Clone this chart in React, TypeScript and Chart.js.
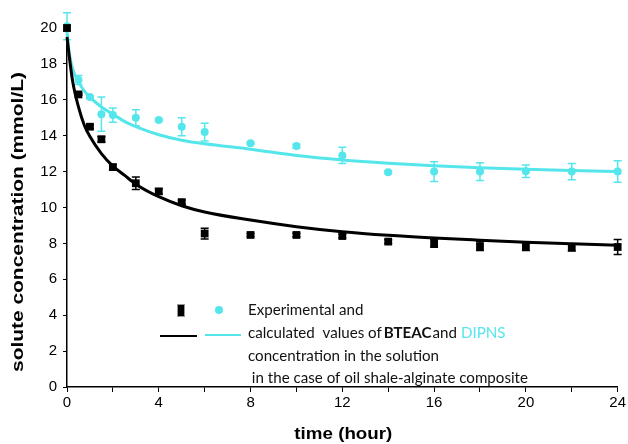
import React, { useEffect, useRef } from "react";
import { Chart, registerables } from "chart.js";
Chart.register(...registerables);

const hours = [0, 0.5, 1, 1.5, 2, 3, 4, 5, 6, 8, 10, 12, 14, 16, 18, 20, 22, 24];
const bteacExp = [20.0, 16.3, 14.5, 13.8, 12.25, 11.35, 10.9, 10.3, 8.55, 8.47, 8.47, 8.41, 8.1, 8.0, 7.85, 7.8, 7.78, 7.8];
const bteacErr = [0.15, 0.05, 0.1, 0.15, 0.15, 0.35, 0.15, 0.12, 0.3, 0.08, 0.1, 0.1, 0.1, 0.22, 0.25, 0.2, 0.2, 0.42];
const dipnsExp = [20.1, 17.1, 16.15, 15.2, 15.15, 15.0, 14.87, 14.5, 14.2, 13.58, 13.42, 12.9, 11.97, 12.0, 12.0, 12.02, 12.0, 12.0];
const dipnsErr = [0.75, 0.25, 0.08, 0.95, 0.4, 0.45, 0.05, 0.5, 0.5, 0.05, 0.1, 0.45, 0.08, 0.55, 0.5, 0.35, 0.45, 0.6];

const fitHours = [0, 0.1, 0.25, 0.5, 0.75, 1, 1.5, 2, 2.5, 3, 4, 5, 6, 8, 10, 12, 14, 16, 18, 20, 22, 24];
const bteacFit = [19.5, 18.4, 17.0, 15.6, 14.6, 13.95, 13.0, 12.3, 11.8, 11.3, 10.6, 10.1, 9.75, 9.3, 8.93, 8.65, 8.45, 8.3, 8.18, 8.07, 7.98, 7.9];
const dipnsFit = [19.8, 18.6, 17.7, 17.0, 16.5, 16.15, 15.6, 15.2, 14.8, 14.5, 14.05, 13.75, 13.55, 13.25, 12.9, 12.65, 12.47, 12.33, 12.22, 12.13, 12.06, 12.0];

const xTitle = "time (hour)";
const yTitle = "solute concentration (mmol/L)";
const legendLines = [
  "Experimental and",
  "calculated  values of ",
  "BTEAC",
  "and",
  "DIPNS",
  "concentration in the solution",
  " in the case of oil shale-alginate composite",
];

const CYAN = "#55E6EC";
const BLACK = "#000000";

const errorBarPlugin = {
  id: "errorBars",
  beforeDatasetsDraw(chart: any) {
    const ctx = chart.ctx;
    const y = chart.scales.y;
    chart.data.datasets.forEach((ds: any, i: number) => {
      if (!ds.errors) return;
      const meta = chart.getDatasetMeta(i);
      ctx.save();
      ctx.strokeStyle = ds.errorColor;
      ctx.lineWidth = 1.5;
      meta.data.forEach((pt: any, j: number) => {
        const v = ds.data[j].y;
        const e = ds.errors[j];
        const y1 = y.getPixelForValue(v + e);
        const y2 = y.getPixelForValue(v - e);
        const x = pt.x;
        ctx.beginPath();
        ctx.moveTo(x, y1);
        ctx.lineTo(x, y2);
        ctx.moveTo(x - 4, y1);
        ctx.lineTo(x + 4, y1);
        ctx.moveTo(x - 4, y2);
        ctx.lineTo(x + 4, y2);
        ctx.stroke();
      });
      ctx.restore();
    });
  },
};

const titlesPlugin = {
  id: "axisTitles",
  afterDraw(chart: any) {
    const ctx = chart.ctx;
    const a = chart.chartArea;
    ctx.save();
    ctx.fillStyle = "#000";
    ctx.textAlign = "center";
    ctx.textBaseline = "middle";
    ctx.font = "bold 17px 'Liberation Sans', Arial, sans-serif";
    const wx = ctx.measureText(xTitle).width;
    ctx.save();
    ctx.translate((a.left + a.right) / 2 + 1, chart.height - 10);
    ctx.scale(98 / wx, 1);
    ctx.fillText(xTitle, 0, 0);
    ctx.restore();
    ctx.font = "bold 16px 'Liberation Sans', Arial, sans-serif";
    const wy = ctx.measureText(yTitle).width;
    ctx.translate(19, a.top + 194);
    ctx.rotate(-Math.PI / 2);
    ctx.scale(300 / wy, 1);
    ctx.fillText(yTitle, 0, 0);
    ctx.restore();
  },
};

const legendPlugin = {
  id: "customLegend",
  afterDraw(chart: any) {
    const ctx = chart.ctx;
    const a = chart.chartArea;
    const ox = a.left;
    const oy = a.top;
    ctx.save();
    ctx.fillStyle = BLACK;
    ctx.strokeStyle = "#999";
    ctx.lineWidth = 1;
    ctx.fillRect(ox + 111, oy + 277, 6, 11);
    ctx.strokeRect(ox + 110.5, oy + 276.5, 7, 12);
    ctx.fillStyle = CYAN;
    ctx.beginPath();
    ctx.arc(ox + 152, oy + 282, 4, 0, Math.PI * 2);
    ctx.fill();
    ctx.lineWidth = 2;
    ctx.strokeStyle = BLACK;
    ctx.beginPath();
    ctx.moveTo(ox + 93, oy + 308);
    ctx.lineTo(ox + 130, oy + 308);
    ctx.stroke();
    ctx.strokeStyle = CYAN;
    ctx.beginPath();
    ctx.moveTo(ox + 138, oy + 307);
    ctx.lineTo(ox + 174, oy + 307);
    ctx.stroke();

    const fam = "Lato, 'Open Sans', sans-serif";
    ctx.font = "14px " + fam;
    const w4 = ctx.measureText(legendLines[6]).width;
    const fs = (14 * 280) / w4;
    const reg = fs.toFixed(2) + "px " + fam;
    const bold = "bold " + fs.toFixed(2) + "px " + fam;
    ctx.textBaseline = "middle";
    ctx.textAlign = "left";
    ctx.fillStyle = "#111";
    ctx.font = reg;
    const tx = ox + 181;
    ctx.fillText(legendLines[0], tx, oy + 282);
    let x = tx;
    const seg = (t: string, font: string, color: string, gap: number) => {
      ctx.font = font;
      ctx.fillStyle = color;
      ctx.fillText(t, x, oy + 305);
      x += ctx.measureText(t).width + gap;
    };
    seg(legendLines[1], reg, "#111", -2);
    seg(legendLines[2], bold, "#111", 1);
    seg(legendLines[3], reg, "#111", 4);
    seg(legendLines[4], reg, CYAN, 0);
    ctx.font = reg;
    ctx.fillStyle = "#111";
    ctx.fillText(legendLines[5], tx, oy + 328);
    ctx.fillText(legendLines[6], tx, oy + 350);
    ctx.restore();
  },
};

export default function App() {
  const ref = useRef<HTMLCanvasElement>(null);
  useEffect(() => {
    const tickFont = { family: "'Liberation Sans', Arial, sans-serif", size: 15 };
    const chart = new Chart(ref.current!, {
      type: "scatter",
      data: {
        datasets: [
          {
            label: "BTEAC exp",
            data: hours.map((h, i) => ({ x: h, y: bteacExp[i] })),
            pointStyle: "rect",
            pointRadius: 5.5,
            backgroundColor: BLACK,
            borderColor: BLACK,
            borderWidth: 0,
            errors: bteacErr,
            errorColor: BLACK,
          } as any,
          {
            label: "DIPNS exp",
            data: hours.map((h, i) => ({ x: h, y: dipnsExp[i] })),
            pointStyle: "circle",
            pointRadius: 4,
            backgroundColor: CYAN,
            borderColor: CYAN,
            borderWidth: 0,
            errors: dipnsErr,
            errorColor: CYAN,
          } as any,
          {
            label: "BTEAC calc",
            data: fitHours.map((h, i) => ({ x: h, y: bteacFit[i] })),
            showLine: true,
            pointRadius: 0,
            borderColor: BLACK,
            borderWidth: 3,
            cubicInterpolationMode: "monotone",
          },
          {
            label: "DIPNS calc",
            data: fitHours.map((h, i) => ({ x: h, y: dipnsFit[i] })),
            showLine: true,
            pointRadius: 0,
            borderColor: CYAN,
            borderWidth: 3,
            cubicInterpolationMode: "monotone",
          },
        ],
      },
      options: {
        animation: false,
        responsive: false,
        clip: false as any,
        layout: { padding: { top: 28, right: 8, left: 0, bottom: 0 } },
        plugins: { legend: { display: false }, tooltip: { enabled: false } },
        scales: {
          x: {
            type: "linear",
            min: 0,
            max: 24,
            afterFit: (s: any) => { s.height = 57; },
            ticks: {
              stepSize: 2,
              color: "#000",
              font: tickFont,
              padding: 2,
              maxRotation: 0,
              callback: (v: any) => (v % 4 === 0 ? String(v) : ""),
            },
            grid: { display: true, drawOnChartArea: false, drawTicks: true, tickLength: 5, color: "#000" },
            border: { color: "#000", width: 1.5 },
          },
          y: {
            type: "linear",
            min: 0,
            max: 20,
            afterFit: (s: any) => { s.width = 67; },
            ticks: {
              stepSize: 1,
              color: "#000",
              font: tickFont,
              padding: 6,
              callback: (v: any) => (v % 2 === 0 ? String(v) : ""),
            },
            grid: { display: true, drawOnChartArea: false, drawTicks: true, tickLength: 4, color: "#000" },
            border: { color: "#000", width: 1.5 },
          },
        },
      },
      plugins: [errorBarPlugin, legendPlugin, titlesPlugin],
    });
    return () => chart.destroy();
  }, []);
  return (
    <div style={{ position: "fixed", left: 0, top: 0, width: 628, height: 444, background: "#fff" }}>
      <canvas ref={ref} width={628} height={444} style={{ width: 628, height: 444 }} />
    </div>
  );
}
